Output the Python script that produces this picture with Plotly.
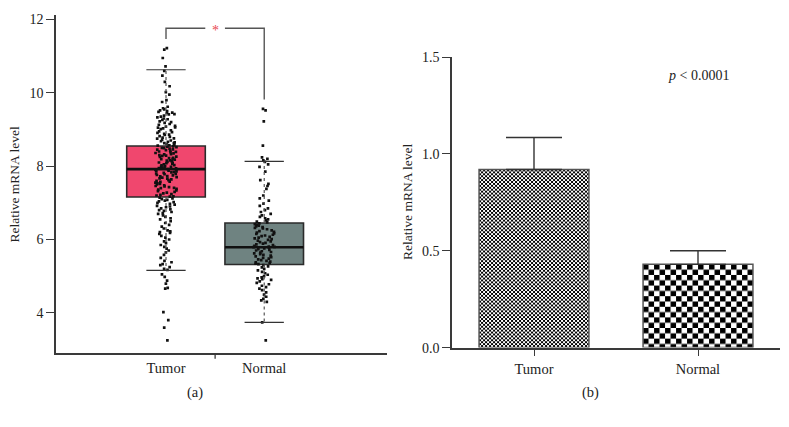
import base64
import plotly.graph_objects as go

# ---------------- data ----------------
groups = ["Tumor", "Normal"]

# panel (a): box statistics
box_q1 = [7.16, 5.32]
box_median = [7.92, 5.79]
box_q3 = [8.55, 6.45]
box_lower = [5.16, 3.74]
box_upper = [10.63, 8.13]

# panel (a): individual samples (estimated from the dot clouds)
tumor_points = [
    11.22, 11.18, 10.95, 10.72, 10.60, 10.47, 10.30, 10.18, 10.02, 9.95, 9.80,
    9.75, 9.62, 9.58, 9.55, 9.52, 9.50, 9.48, 9.46,
    9.45, 9.42, 9.41, 9.38, 9.35, 9.33, 9.30, 9.28, 9.26, 9.22, 9.20, 9.18, 9.15,
    9.13, 9.10, 9.08, 9.06, 9.05, 9.03, 9.01,
    8.98, 8.95, 8.93, 8.91, 8.88, 8.86, 8.85, 8.82, 8.80, 8.78, 8.76, 8.75, 8.72,
    8.70, 8.68, 8.66, 8.65, 8.63, 8.62, 8.60, 8.58, 8.57, 8.56,
    8.54, 8.53, 8.52, 8.50, 8.49, 8.48, 8.46, 8.45, 8.44, 8.42, 8.40, 8.39, 8.38,
    8.36, 8.35, 8.33, 8.32, 8.30, 8.29, 8.28, 8.26, 8.25, 8.23, 8.22, 8.20, 8.19,
    8.18, 8.16, 8.15, 8.13, 8.12, 8.10, 8.09, 8.08, 8.06, 8.05, 8.03, 8.02, 8.00,
    7.99, 7.98, 7.97, 7.96, 7.95, 7.94, 7.93, 7.92,
    7.91, 7.90, 7.88, 7.87, 7.86, 7.84, 7.83, 7.82, 7.80, 7.79, 7.78, 7.76, 7.75,
    7.73, 7.72, 7.70, 7.69, 7.67, 7.66, 7.64, 7.62, 7.60, 7.58, 7.57, 7.55, 7.53,
    7.52, 7.50, 7.48, 7.46, 7.45, 7.43, 7.41, 7.40, 7.38, 7.36, 7.34, 7.32, 7.30,
    7.28, 7.26, 7.24, 7.22, 7.20, 7.18, 7.17,
    7.14, 7.12, 7.10, 7.08, 7.06, 7.04, 7.02, 7.00, 6.97, 6.95, 6.92, 6.90, 6.88,
    6.85, 6.82, 6.80, 6.78, 6.75, 6.72, 6.70, 6.66, 6.62, 6.58, 6.55, 6.50, 6.45,
    6.40, 6.35, 6.30, 6.25, 6.22, 6.20, 6.18, 6.15, 6.10, 6.05, 6.00, 5.95, 5.90,
    5.85, 5.80, 5.75, 5.70, 5.65, 5.58, 5.50, 5.42, 5.38, 5.33, 5.30, 5.25, 5.20,
    5.17,
    5.05, 4.98, 4.88, 4.80, 4.68, 4.66, 4.02, 3.80, 3.60, 3.25,
]
normal_points = [
    9.56, 9.52, 9.22, 8.56, 8.24, 8.20, 8.16, 8.12, 8.05, 7.98, 7.85, 7.62, 7.52,
    7.46, 7.38, 7.20, 7.12, 7.06, 6.98, 6.92, 6.85, 6.80, 6.75, 6.70, 6.66, 6.62,
    6.58, 6.55, 6.52, 6.49, 6.47,
    6.44, 6.42, 6.40, 6.38, 6.36, 6.34, 6.32, 6.30, 6.28, 6.25, 6.23, 6.21, 6.19,
    6.17, 6.15, 6.13, 6.11, 6.09, 6.07, 6.05, 6.03, 6.01, 5.99, 5.97, 5.95, 5.93,
    5.91, 5.89, 5.87, 5.85, 5.83, 5.81, 5.80, 5.79, 5.78, 5.76, 5.74, 5.72, 5.70,
    5.68, 5.66, 5.64, 5.62, 5.60, 5.58, 5.56, 5.54, 5.52, 5.50, 5.48, 5.46, 5.44,
    5.42, 5.40, 5.38, 5.36, 5.34, 5.33,
    5.30, 5.27, 5.24, 5.20, 5.16, 5.12, 5.08, 5.04, 5.00, 4.97, 4.94, 4.92, 4.90,
    4.86, 4.82, 4.78, 4.74, 4.70, 4.66, 4.62, 4.56, 4.50, 4.44, 4.38, 4.34, 4.30,
    3.74, 3.25,
]

# panel (b): mean and upper error
bar_means = [0.92, 0.43]
bar_errors = [0.165, 0.07]

left_yticks = [4, 6, 8, 10, 12]
right_yticks = [0.0, 0.5, 1.0, 1.5]
right_yticklabels = ["0.0", "0.5", "1.0", "1.5"]

# ---------------- style ----------------
FONT = "Liberation Serif"
AX = "#3a3a3a"
box_fill = ["#F0476E", "#6F8381"]
BOX_W = 0.8
CAP_HALF = 0.2
BAR_W = 0.67
checker_cell = [2.0, 5.5]   # px size of checkerboard squares for each bar

W, H = 789, 427
X2_DOM = [452 / W, 780 / W]
Y2_DOM = [1 - 353 / H, 1 - 52 / H]
X2_RANGE = [-0.5, 1.5]
Y2_RANGE = [0, 1.5]
px_per_cat = (X2_DOM[1] - X2_DOM[0]) * W / (X2_RANGE[1] - X2_RANGE[0])
px_per_unit = (Y2_DOM[1] - Y2_DOM[0]) * H / (Y2_RANGE[1] - Y2_RANGE[0])


def checker_uri(wpx, hpx, c):
    svg = (
        f"<svg xmlns='http://www.w3.org/2000/svg' width='{wpx:.1f}' height='{hpx:.1f}' "
        f"viewBox='0 0 {wpx:.1f} {hpx:.1f}' preserveAspectRatio='none'>"
        f"<defs><pattern id='p' width='{2*c}' height='{2*c}' patternUnits='userSpaceOnUse'>"
        f"<rect width='{2*c}' height='{2*c}' fill='white'/>"
        f"<rect width='{c}' height='{c}' fill='black'/>"
        f"<rect x='{c}' y='{c}' width='{c}' height='{c}' fill='black'/>"
        f"</pattern></defs><rect width='100%' height='100%' fill='url(#p)'/></svg>"
    )
    return "data:image/svg+xml;base64," + base64.b64encode(svg.encode()).decode()


fig = go.Figure()

# panel (a) boxes (no built-in whiskers; drawn below as dotted lines)
for i, g in enumerate(groups):
    fig.add_trace(go.Box(
        x=[i], q1=[box_q1[i]], median=[box_median[i]], q3=[box_q3[i]],
        lowerfence=[box_q1[i]], upperfence=[box_q3[i]],
        width=BOX_W, whiskerwidth=0, fillcolor=box_fill[i],
        line=dict(color="#2b2b2b", width=1.6), boxpoints=False,
        xaxis="x", yaxis="y", showlegend=False, hoverinfo="skip",
    ))
    fig.add_trace(go.Scatter(
        x=[i, i, None, i, i], y=[box_q3[i], box_upper[i], None, box_q1[i], box_lower[i]],
        mode="lines", line=dict(color="#555555", width=1.2, dash="dot"),
        xaxis="x", yaxis="y", showlegend=False, hoverinfo="skip",
    ))
    fig.add_trace(go.Scatter(
        x=[i - CAP_HALF, i + CAP_HALF, None, i - CAP_HALF, i + CAP_HALF],
        y=[box_upper[i], box_upper[i], None, box_lower[i], box_lower[i]],
        mode="lines", line=dict(color="#333333", width=1.1),
        xaxis="x", yaxis="y", showlegend=False, hoverinfo="skip",
    ))

for i, g in enumerate(groups):
    fig.add_trace(go.Scatter(
        x=[i - BOX_W / 2, i + BOX_W / 2], y=[box_median[i], box_median[i]],
        mode="lines", line=dict(color="#111111", width=2.6),
        xaxis="x", yaxis="y", showlegend=False, hoverinfo="skip",
    ))

# jittered sample points
for i, pts in enumerate([tumor_points, normal_points]):
    fig.add_trace(go.Box(
        x=[i] * len(pts), y=pts, width=BOX_W, boxpoints="all", jitter=0.28,
        pointpos=0, fillcolor="rgba(0,0,0,0)",
        line=dict(color="rgba(0,0,0,0)", width=0),
        marker=dict(color="#111111", size=2.7, symbol="square"),
        xaxis="x", yaxis="y", showlegend=False, hoverinfo="skip",
    ))

# significance bracket
BR_TOP = 11.76
BR_LEFT = 11.47
BR_RIGHT = 9.82
fig.add_trace(go.Scatter(
    x=[0, 0, 0.4, None, 0.6, 1, 1], y=[BR_LEFT, BR_TOP, BR_TOP, None, BR_TOP, BR_TOP, BR_RIGHT],
    mode="lines", line=dict(color="#555555", width=1.4),
    xaxis="x", yaxis="y", showlegend=False, hoverinfo="skip",
))

# panel (b) bars (checkerboard texture placed under transparent bars)
images = []
for i, g in enumerate(groups):
    fig.add_trace(go.Bar(
        x=[g], y=[bar_means[i]], width=BAR_W,
        marker=dict(color="rgba(0,0,0,0)", line=dict(color="#555555", width=1.5)),
        error_y=dict(type="data", array=[bar_errors[i]], arrayminus=[0], symmetric=False,
                     color="#333333", thickness=1.4, width=28),
        xaxis="x2", yaxis="y2", showlegend=False, hoverinfo="skip",
    ))
    images.append(dict(
        source=checker_uri(BAR_W * px_per_cat, bar_means[i] * px_per_unit, checker_cell[i]),
        xref="x2", yref="y2", x=i - BAR_W / 2, y=bar_means[i],
        sizex=BAR_W, sizey=bar_means[i], xanchor="left", yanchor="top",
        sizing="stretch", layer="below",
    ))

fig.update_layout(
    width=W, height=H, margin=dict(l=0, r=0, t=0, b=0),
    paper_bgcolor="white", plot_bgcolor="rgba(0,0,0,0)",
    boxmode="overlay", barmode="overlay",
    font=dict(family=FONT, size=13, color="#222222"),
    images=images,
    xaxis=dict(domain=[56 / W, 387 / W], range=[-1.12, 2.25], tickvals=[0, 1], ticktext=groups,
               ticks="", showgrid=False, zeroline=False, showline=True, linecolor=AX, linewidth=1.5,
               tickfont=dict(size=14.5), fixedrange=True),
    yaxis=dict(domain=[1 - 359 / H, 1 - 8 / H], range=[2.895, 12.13], tickvals=left_yticks,
               ticks="outside", ticklen=8, tickwidth=1.3, tickcolor=AX, showgrid=False, zeroline=False,
               showline=True, linecolor=AX, linewidth=1.5, tickfont=dict(size=14)),
    xaxis2=dict(domain=X2_DOM, range=X2_RANGE, type="category", categoryarray=groups,
                ticks="outside", ticklen=7, tickwidth=1.3, tickcolor=AX, showgrid=False, zeroline=False,
                showline=True, linecolor=AX, linewidth=1.5, tickfont=dict(size=14.5), anchor="y2"),
    yaxis2=dict(domain=Y2_DOM, range=Y2_RANGE, tickvals=right_yticks,
                ticktext=right_yticklabels, ticks="outside", ticklen=8, tickwidth=1.3, tickcolor=AX,
                showgrid=False, zeroline=False, showline=True, linecolor=AX, linewidth=1.5,
                tickfont=dict(size=14), anchor="x2"),
    shapes=[dict(type="line", xref="x", yref="y domain", x0=0.5, x1=0.5, y0=0, y1=-0.016,
                 line=dict(color=AX, width=1.3))],
    annotations=[
        dict(text="*", x=0.5, y=BR_TOP, xref="x", yref="y", showarrow=False,
             font=dict(color="#E8474F", size=14), yanchor="middle", yshift=-2),
        dict(text="Relative mRNA level", x=15 / W, y=1 - 184 / H, xref="paper", yref="paper",
             textangle=-90, showarrow=False, font=dict(size=13.5),
             xanchor="center", yanchor="middle"),
        dict(text="Relative mRNA level", x=408 / W, y=1 - 202 / H, xref="paper", yref="paper",
             textangle=-90, showarrow=False, font=dict(size=13.5),
             xanchor="center", yanchor="middle"),
        dict(text="<i>p</i> < 0.0001", x=1, y=1.405, xref="x2", yref="y2", showarrow=False,
             font=dict(size=14), yanchor="middle"),
        dict(text="(a)", x=195 / W, y=1 - 400 / H, xref="paper", yref="paper", showarrow=False,
             font=dict(size=14.5), xanchor="center", yanchor="middle"),
        dict(text="(b)", x=590 / W, y=1 - 400 / H, xref="paper", yref="paper", showarrow=False,
             font=dict(size=14.5), xanchor="center", yanchor="middle"),
    ],
)

PAGE_FIX = (
    "var s=document.createElement('style');"
    "s.textContent='html,body{margin:0;padding:0;overflow:hidden;width:789px;height:427px;}"
    " .plotly-graph-div{position:fixed;top:0;left:0;}';"
    "document.head.appendChild(s);"
)
fig.write_html("out.html", post_script=PAGE_FIX, config={"displayModeBar": False})
